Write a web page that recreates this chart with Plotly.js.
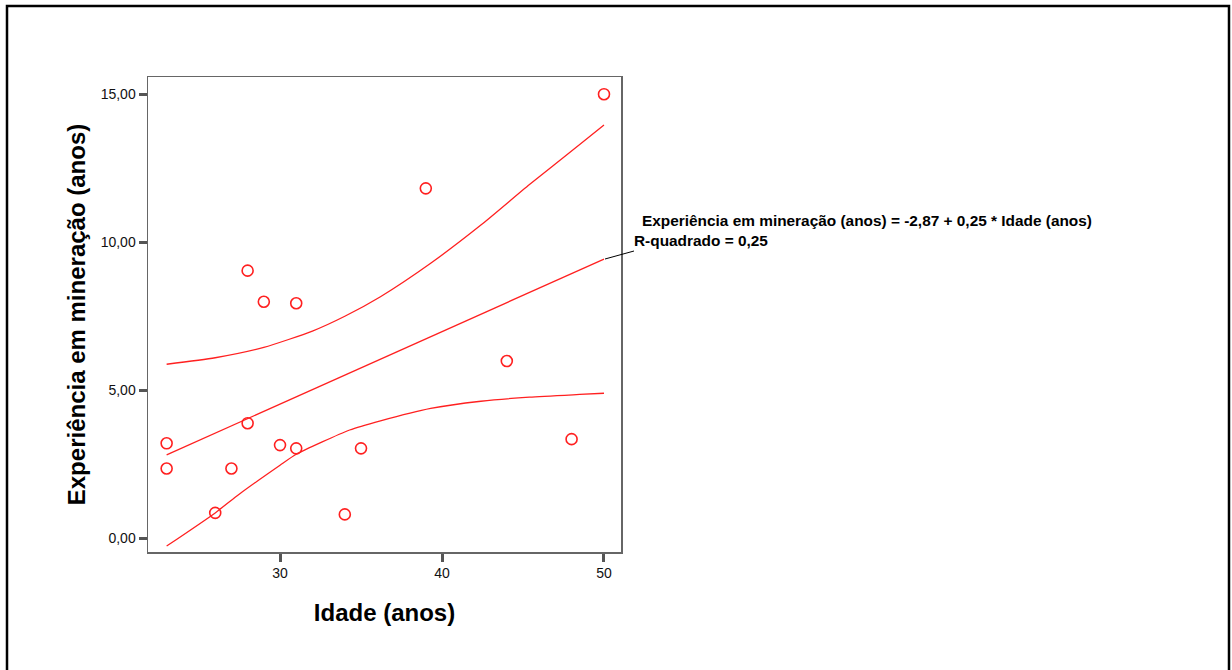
<!DOCTYPE html>
<html>
<head>
<meta charset="utf-8">
<script src="https://cdn.plot.ly/plotly-3.0.1.min.js"></script>
<style>
  html, body { margin: 0; padding: 0; background: #fff; }
  #chart { width: 1232px; height: 670px; }
</style>
</head>
<body>
<div id="chart"></div>
<script>
// Observed data: Idade (anos) vs Experiência em mineração (anos)
const idade = [23, 23, 26, 27, 28, 28, 29, 30, 31, 31, 34, 35, 39, 44, 48, 50];
const experiencia = [3.21, 2.36, 0.86, 2.36, 9.04, 3.89, 7.99, 3.15, 7.94, 3.04, 0.81, 3.04, 11.82, 5.99, 3.35, 15.00];

// Fitted regression line
const fitX = [23, 50];
const fitY = [2.82, 9.43];

// Upper confidence curve
const upperX = [23, 26, 29, 32, 34, 36.2, 39.3, 42.4, 45.4, 48.5, 50];
const upperY = [5.88, 6.10, 6.45, 7.00, 7.50, 8.16, 9.29, 10.58, 11.95, 13.30, 13.96];

// Lower confidence curve
const lowerX = [23, 26, 27.5, 30, 31, 34.3, 36.2, 39.3, 42.4, 45.4, 48.5, 50];
const lowerY = [-0.26, 0.86, 1.50, 2.47, 2.84, 3.66, 3.97, 4.39, 4.63, 4.77, 4.86, 4.90];

// Tick labels
const xTickVals = [30, 40, 50];
const xTickText = ['30', '40', '50'];
const yTickVals = [0, 5, 10, 15];
const yTickText = ['0,00', '5,00', '10,00', '15,00'];

const eqLine1 = 'Experiência em mineração (anos) = -2,87 + 0,25 * Idade (anos)';
const eqLine2 = 'R-quadrado = 0,25';

const red = '#ff2020';
const font = 'Arial, "Liberation Sans", sans-serif';

const traces = [
  { x: upperX, y: upperY, mode: 'lines', line: { color: red, width: 1.3, shape: 'spline', smoothing: 0.6 }, hoverinfo: 'skip' },
  { x: lowerX, y: lowerY, mode: 'lines', line: { color: red, width: 1.3, shape: 'spline', smoothing: 0.6 }, hoverinfo: 'skip' },
  { x: fitX, y: fitY, mode: 'lines', line: { color: red, width: 1.3 }, hoverinfo: 'skip' },
  { x: idade, y: experiencia, mode: 'markers', marker: { symbol: 'circle-open', size: 11, color: red, line: { color: red, width: 1.6 } } }
];

const layout = {
  width: 1232, height: 670,
  paper_bgcolor: '#fff', plot_bgcolor: '#fff',
  showlegend: false,
  margin: { l: 148, r: 611, t: 77, b: 118, pad: 0 },
  font: { family: font, color: '#000' },
  xaxis: {
    range: [21.85, 51.05], showgrid: false, zeroline: false,
    tickvals: xTickVals, ticktext: xTickText,
    ticks: 'outside', ticklen: 8, tickwidth: 3, tickcolor: '#555',
    showline: true, linecolor: '#666', linewidth: 1.5, mirror: true,
    tickfont: { size: 14, color: '#111', family: font },
    title: { text: 'Idade (anos)', font: { size: 24, family: font, weight: 'bold', color: '#000' }, standoff: 24 }
  },
  yaxis: {
    range: [-0.46, 15.58], showgrid: false, zeroline: false,
    tickvals: yTickVals, ticktext: yTickText,
    ticks: 'outside', ticklen: 8, tickwidth: 3, tickcolor: '#555',
    showline: true, linecolor: '#666', linewidth: 1.5, mirror: true,
    tickfont: { size: 14, color: '#111', family: font },
    title: { text: 'Experiência em mineração (anos)', font: { size: 24, family: font, weight: 'bold', color: '#000' }, standoff: 8 }
  },
  annotations: [
    { xref: 'paper', yref: 'paper', x: (640 - 148) / 473, y: (552 - 220) / 475, xanchor: 'left', yanchor: 'middle',
      text: '<b>' + eqLine1 + '</b>', showarrow: false, font: { size: 15.4, family: font, color: '#000' } },
    { xref: 'paper', yref: 'paper', x: (632 - 148) / 473, y: (552 - 240) / 475, xanchor: 'left', yanchor: 'middle',
      text: '<b>' + eqLine2 + '</b>', showarrow: false, font: { size: 15.4, family: font, color: '#000' } }
  ],
  shapes: [
    { type: 'line', xref: 'paper', yref: 'paper', x0: (605 - 148) / 473, y0: (552 - 259) / 475, x1: (634 - 148) / 473, y1: (552 - 251) / 475,
      line: { color: '#000', width: 1 } },
    { type: 'rect', xref: 'paper', yref: 'paper', x0: (7 - 148) / 473, x1: (1229 - 148) / 473, y0: (552 - 690) / 475, y1: (552 - 6) / 475,
      line: { color: '#000', width: 2.5 }, fillcolor: 'rgba(0,0,0,0)' }
  ]
};

Plotly.newPlot('chart', traces, layout, { displayModeBar: false, staticPlot: true });
</script>
</body>
</html>
